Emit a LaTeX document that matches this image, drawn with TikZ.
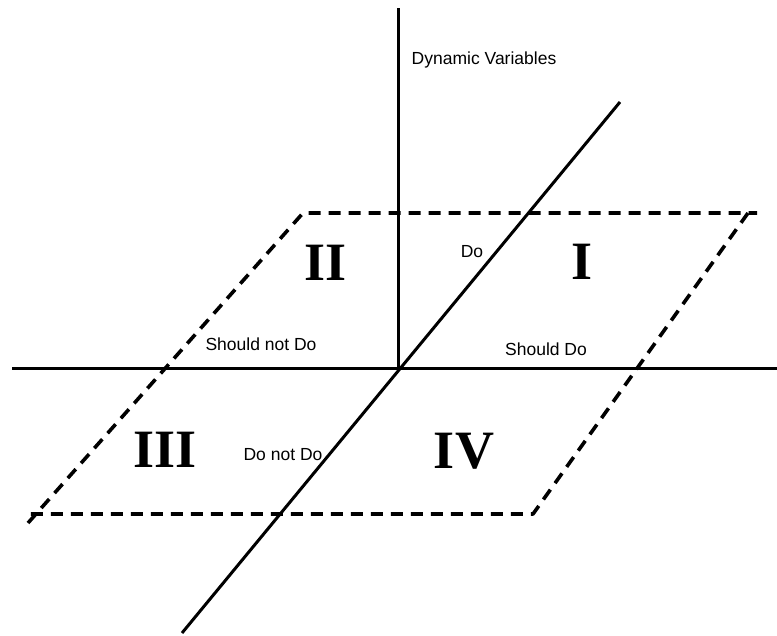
\documentclass[tikz,border=0pt]{standalone}
\usepackage{fontspec}
\setmainfont{Liberation Sans}
\newfontfamily\romanfont{Liberation Serif}
\usetikzlibrary{positioning}

\begin{document}
\begin{tikzpicture}[x=1pt, y=-1pt, font=\fontsize{17.5}{20}\selectfont, every node/.style={inner sep=0pt}]
        \tikzset{
            axis/.style={line width=3pt},
            plane/.style={line width=3.6pt, dash pattern=on 12pt off 8pt},
            quad/.style={anchor=base, font=\romanfont\bfseries\fontsize{54}{54}\selectfont},
            lbl/.style={anchor=base}
        }
        \useasboundingbox (0,0) rectangle (777,635);

        % axes
        \coordinate (origin) at (398,368);
        \coordinate (vtop) at (398,8);
        \coordinate (hleft) at (12,368);
        \coordinate (hright) at (777,368);
        \coordinate (dtop) at (620,102);
        \coordinate (dbot) at (182,633);

        % corners of the plane
        \coordinate (pTL) at (303,213);
        \coordinate (pTR) at (748,213);
        \coordinate (pTRx) at (757,213);
        \coordinate (pBR) at (533,514);
        \coordinate (pBL) at (30,514);
        \coordinate (pBLx) at (28,523);

        \draw[plane, line join=round] (pBLx) -- (pTL) -- (pTRx);
        \draw[plane, line join=round] (pTR) -- (pBR) -- (pBL);

        \draw[axis] (vtop) -- (origin);
        \draw[axis] (hleft) -- (hright);
        \draw[axis] (dtop) -- (dbot);

        \node[lbl] (dynvar) at (484,64) {Dynamic Variables};
        \node[lbl] (do) at (472,257) {Do};
        \node[lbl] (shouldnot) at (261,350) {Should not Do};
        \node[lbl] (should) at (546,355) {Should Do};
        \node[lbl] (donot) at (283,460) {Do not Do};

        \node[quad] (qI) at (582,279) {I};
        \node[quad] (qII) at (326,280) {II};
        \node[quad] (qIII) at (165,467) {III};
        \node[quad] (qIV) at (464,468) {IV};
    \end{tikzpicture}
\end{document}
